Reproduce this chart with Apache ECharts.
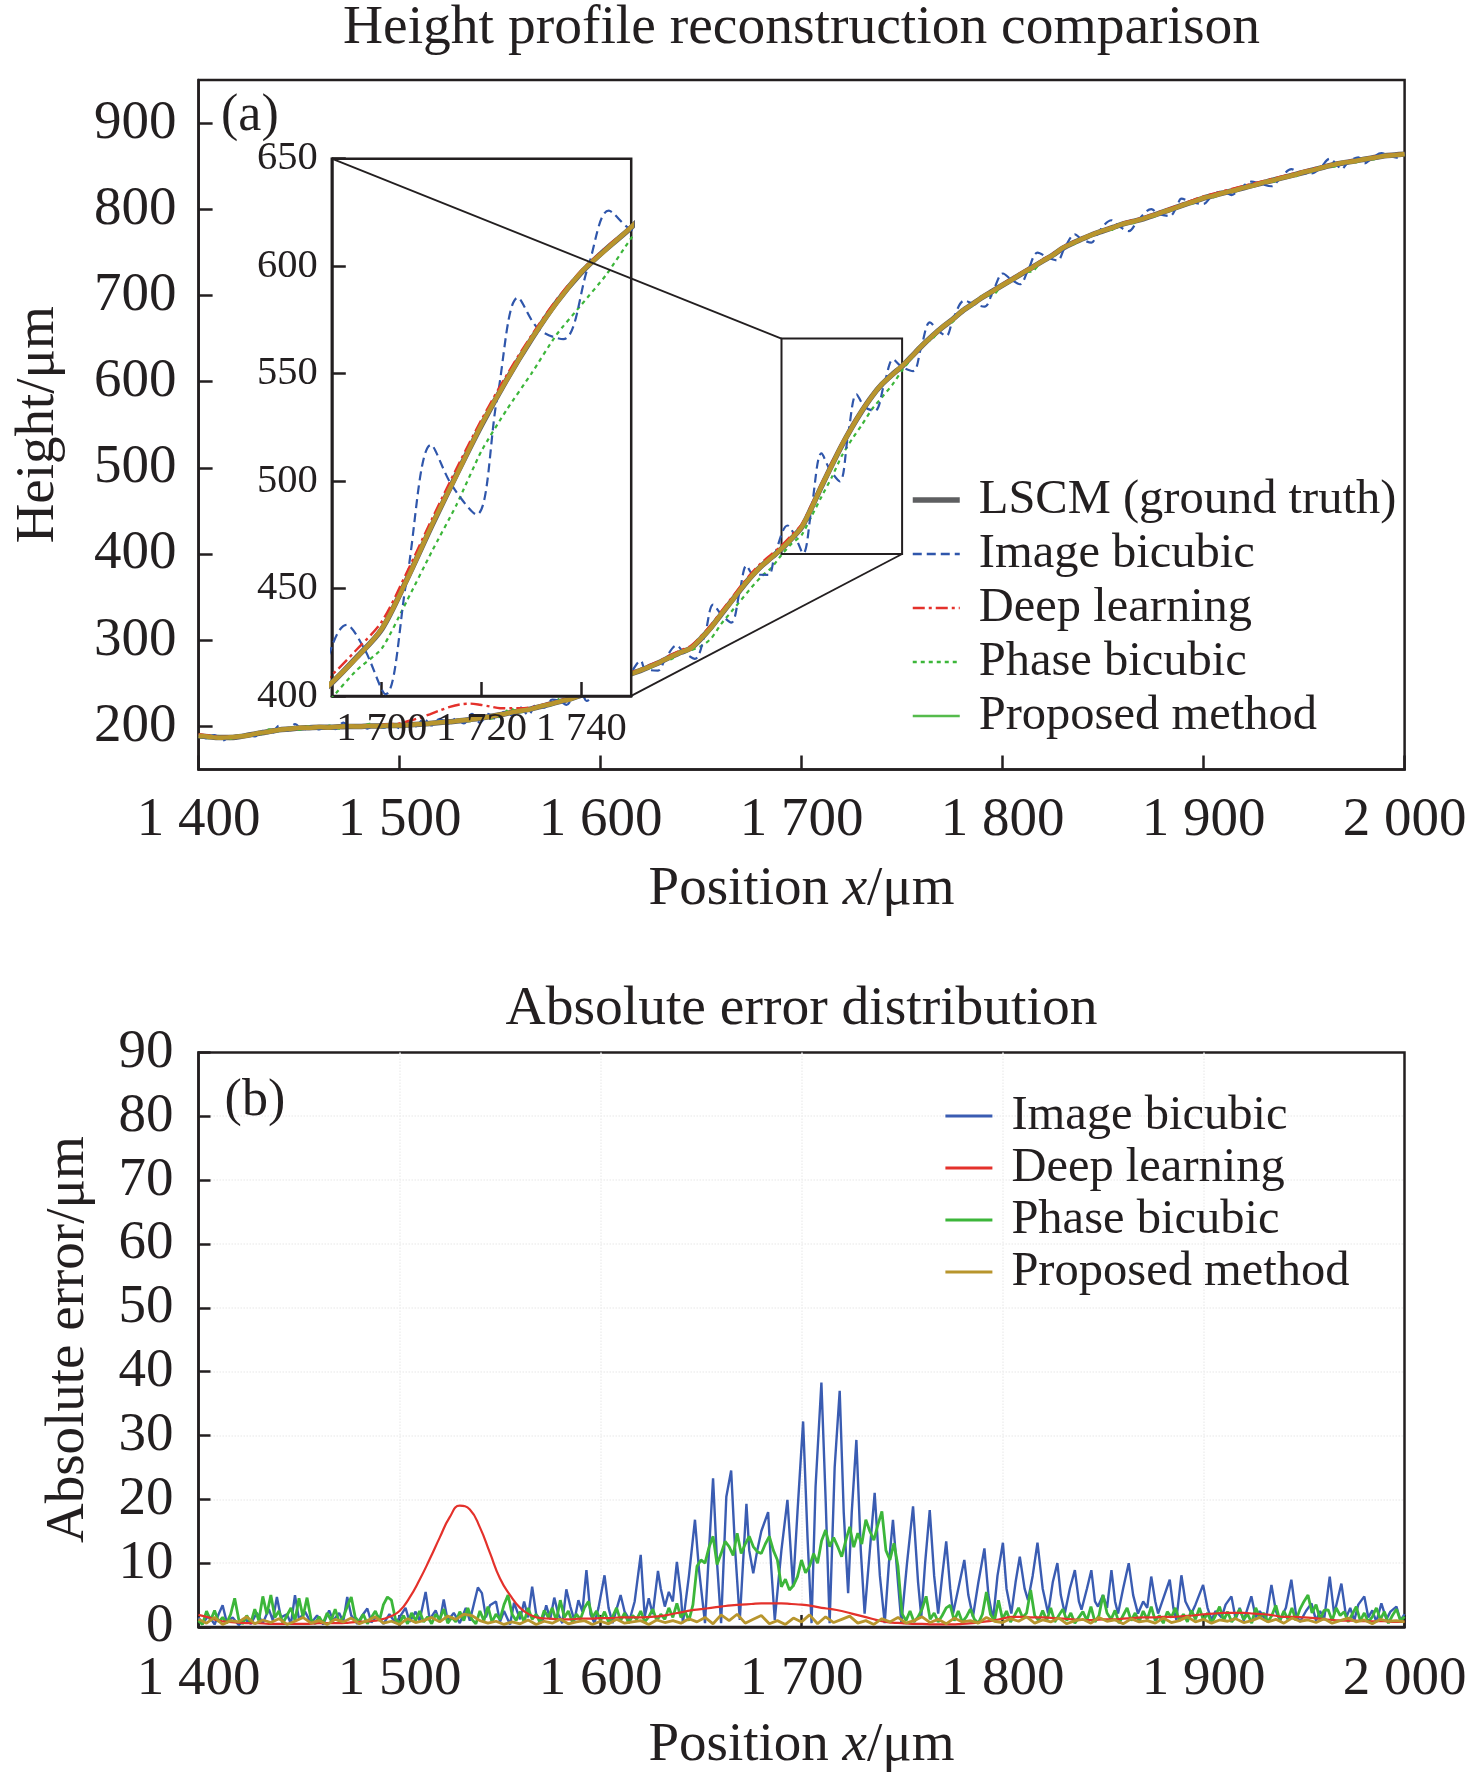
<!DOCTYPE html>
<html>
<head>
<meta charset="utf-8">
<title>Height profile reconstruction comparison</title>
<script src="https://cdn.jsdelivr.net/npm/echarts@6/dist/echarts.min.js"></script>
<style>
  html, body { margin: 0; padding: 0; background: #fff; }
  #chartA { position: absolute; left: 0; top: 0; width: 1476px; height: 960px; }
  #chartB { position: absolute; left: 0; top: 960px; width: 1476px; height: 819px; }
</style>
</head>
<body>
<div id="chartA"></div>
<div id="chartB"></div>
<script>
/* ===== data ===== */

// (a) heights, sampled every 5 um from 1400 to 2000
var heightStart = 1400, heightStep = 5;
var lscmH = [
  189, 188, 187, 187, 188, 190, 192, 194, 196, 197,
  198, 198.5, 199, 199, 199.5, 200, 200, 200.5, 200.5, 201,
  201, 202, 202.5, 203.5, 204.5, 205.5, 206.5, 208, 209.5, 211.5,
  213.5, 216, 218, 220, 223, 226, 229, 232, 236, 240,
  245, 250, 256, 261, 265, 270, 275, 281, 286, 291,
  302, 315, 330, 345, 360, 374, 386, 396, 406, 418,
  431, 454, 479, 503, 526, 547, 566, 583, 597, 608,
  618, 630, 642, 653, 663, 672, 682, 690, 698, 705,
  712, 719, 726, 733, 740, 747, 755, 761, 766, 771,
  775, 779, 783, 786, 789, 793, 797, 801, 805, 809,
  813, 816, 819, 822, 825, 828, 831, 834, 837, 840,
  843, 846, 849, 852, 854, 856, 858, 860, 862, 863,
  864
];
var proposedH = [
  189.2, 188.1, 186.8, 187.3, 188.2, 189.8, 192.3, 193.8, 196.2, 197.1,
  198.3, 198.4, 199.2, 198.8, 199.6, 200.2, 199.8, 200.6, 200.4, 201.2,
  201.1, 201.8, 202.7, 203.4, 204.8, 205.3, 206.8, 207.8, 209.7, 211.3,
  213.7, 215.8, 218.2, 219.8, 223.2, 225.8, 229.1, 231.8, 236.2, 239.8,
  245.1, 249.8, 256.2, 260.8, 265.2, 269.8, 275.1, 280.8, 286.2, 290.8,
  302.2, 314.8, 330.3, 344.7, 360.2, 373.8, 386.1, 395.8, 406.2, 417.8,
  431.2, 453.8, 479.2, 502.7, 526.2, 546.8, 566.1, 582.8, 597.2, 607.8,
  618.2, 629.8, 642.1, 652.8, 663.2, 671.8, 682.1, 689.8, 698.2, 704.8,
  712.1, 718.8, 726.2, 732.8, 740.1, 746.8, 755.2, 760.8, 766.1, 770.8,
  775.2, 778.8, 783.1, 785.8, 789.2, 792.8, 797.1, 800.8, 805.2, 808.8,
  813.1, 815.8, 819.2, 821.8, 825.1, 827.8, 831.2, 833.8, 837.1, 839.8,
  843.2, 845.8, 849.1, 851.8, 854.2, 855.8, 858.1, 859.8, 862.1, 862.8,
  864.1
];
var deepH = [
  190.9, 189.5, 188.0, 187.8, 188.7, 190.6, 192.6, 194.5, 196.5, 197.5,
  198.5, 199.0, 199.6, 199.6, 200.1, 200.7, 200.8, 201.4, 201.6, 202.6,
  203.5, 206.6, 209.9, 214.1, 218.5, 222.7, 225.5, 226.4, 225.1, 223.1,
  221.1, 221.0, 221.0, 221.9, 224.4, 227.3, 230.2, 233.2, 237.3, 241.3,
  246.4, 251.4, 257.5, 262.5, 266.5, 271.6, 276.7, 283.0, 288.3, 293.6,
  304.8, 318.0, 333.2, 348.4, 363.5, 377.6, 389.7, 399.7, 409.7, 421.6,
  434.5, 457.3, 482.0, 505.8, 528.5, 549.1, 567.7, 584.3, 597.9, 608.7,
  618.6, 630.5, 642.5, 653.4, 663.4, 672.4, 682.5, 690.6, 698.8, 706.0,
  713.3, 720.6, 727.6, 734.5, 741.5, 748.4, 756.3, 762.2, 767.1, 772.1,
  776.2, 780.2, 784.3, 787.4, 790.5, 794.5, 798.6, 802.6, 806.7, 810.8,
  815.0, 818.1, 821.2, 824.2, 827.2, 830.1, 833.0, 835.8, 838.6, 841.6,
  844.5, 847.4, 850.2, 853.1, 855.0, 857.0, 858.9, 860.9, 862.9, 863.8,
  864.8
];
var phaseH = [
  188.0, 186.5, 189.0, 185.0, 189.5, 191.0, 190.0, 196.5, 194.5, 199.0,
  196.0, 200.5, 197.5, 201.0, 197.5, 202.0, 199.0, 203.0, 199.5, 199.0,
  202.5, 200.5, 204.0, 202.0, 206.0, 204.0, 208.0, 206.0, 210.5, 209.0,
  211.5, 220.5, 216.5, 219.0, 224.5, 224.5, 232.5, 230.5, 239.5, 237.5,
  246.0, 248.0, 257.5, 259.0, 266.5, 268.0, 276.0, 278.0, 285.0, 288.5,
  293.0, 302.0, 319.0, 333.0, 347.0, 361.0, 374.0, 384.0, 399.0, 412.0,
  422.0, 444.0, 467.0, 489.0, 514.0, 533.0, 550.0, 568.0, 582.0, 596.0,
  613.0, 628.0, 643.5, 649.5, 664.0, 669.0, 683.0, 688.0, 699.5, 700.0,
  713.0, 717.0, 727.0, 728.0, 741.0, 745.0, 756.0, 759.0, 767.0, 769.0,
  776.5, 776.0, 784.0, 784.0, 790.0, 791.0, 798.0, 799.0, 806.0, 807.0,
  813.5, 814.0, 820.0, 820.0, 826.0, 826.0, 831.5, 832.0, 838.0, 837.5,
  843.5, 843.0, 850.0, 849.5, 855.0, 854.0, 858.5, 858.0, 862.5, 861.5,
  864.0
];
// image bicubic height: uneven sampling (peaks and crossings)
var bicubicHx = [
  1400, 1404, 1408, 1412, 1416, 1420, 1424, 1428, 1432, 1436,
  1440, 1444, 1448, 1452, 1456, 1460, 1464, 1468, 1472, 1476,
  1480, 1484, 1488, 1492, 1496, 1500, 1504, 1508, 1512, 1516,
  1520, 1524, 1528, 1532, 1536, 1540, 1544, 1548, 1552, 1556,
  1560, 1564, 1568, 1572, 1576,
  1580, 1583, 1586, 1589, 1591, 1593, 1597.5, 1602, 1606, 1610.4,
  1614.5, 1620, 1622, 1628.6, 1632, 1637.8, 1641, 1646.9, 1651.9, 1656,
  1660, 1665, 1669.3, 1672.6, 1676, 1683.4, 1686.7, 1693, 1696.5, 1700.8,
  1705, 1709.9, 1714, 1719, 1723.2, 1727.3, 1731.4, 1736.4, 1741.4, 1745.5,
  1749.7, 1755.5, 1759.6, 1763.8, 1768, 1772, 1775.4, 1781, 1785.3, 1791,
  1795.3, 1800.2, 1804.4, 1808.6, 1812.7, 1817.4, 1822.7, 1827.3, 1831, 1836,
  1839.3, 1844.2, 1847.5, 1854.2, 1857.5, 1862.8, 1867.4, 1874, 1877.4, 1883.2,
  1886.5, 1889, 1894, 1899.8, 1904, 1908, 1911, 1913.9, 1918, 1923.8,
  1928, 1933.8, 1938, 1943.7, 1948, 1953.7, 1958, 1962.8, 1966, 1968.6,
  1972, 1977, 1980, 1984, 1988.5, 1992, 1996, 2000
];
var bicubicH = [
  190.5, 186.2, 189.9, 183.6, 188.7, 186.8, 191.8, 188.4, 194.8, 190.9,
  200.7, 194.8, 202.6, 195.8, 200.4, 196.4, 201.2, 196.8, 204.4, 198.2,
  201.6, 197.5, 202.3, 198.7, 202.5, 198.0, 204.2, 199.9, 208.6, 201.1,
  208.8, 203.1, 209.1, 203.5, 214.5, 204.2, 214.5, 208.7, 217.0, 212.6,
  222.0, 213.3, 225.2, 221.7, 231.2,
  229.0, 224.9, 232.8, 239.4, 236.8, 229.5, 242.5, 255.1, 251.2, 251.4,
  260.5, 276.3, 267.0, 264.8, 277.4, 294.0, 287.0, 278.4, 307.0, 341.3,
  330.0, 320.5, 358.0, 386.6, 376.4, 375.8, 399.4, 433.1, 422.0, 400.8,
  454.0, 516.8, 498.2, 484.4, 539.5, 585.3, 570.8, 566.0, 600.0, 625.8,
  617.4, 612.3, 641.0, 668.7, 659.0, 653.2, 672.8, 694.1, 690.5, 687.1,
  705.4, 725.5, 718.2, 713.0, 729.8, 749.6, 743.8, 740.7, 756.0, 770.9,
  765.3, 761.3, 773.0, 787.3, 781.0, 774.7, 787.4, 800.1, 794.9, 792.2,
  802.2, 812.3, 808.2, 806.2, 815.4, 820.3, 819.6, 816.5, 823.8, 832.1,
  829.8, 826.7, 835.8, 846.6, 841.8, 841.5, 847.8, 858.6, 852.4, 846.6,
  854.8, 860.3, 853.2, 859.6, 865.1, 862.4, 860.0, 866.0
];
var zoomBox = [1690, 1750, 400, 650];       // x0, x1, y0, y1 of the magnified region
var yTicksA = [200, 300, 400, 500, 600, 700, 800, 900];
var insetXTicks = [1700, 1720, 1740];

// (b) absolute errors
var bicubicErrX = [
  1400, 1402, 1405, 1408, 1410, 1412, 1414, 1417, 1420, 1423,
  1426, 1429, 1432, 1435, 1437, 1439, 1441, 1444, 1446, 1448,
  1450, 1453, 1456, 1459, 1462, 1465, 1467, 1470, 1472, 1474,
  1476, 1479, 1481, 1484, 1486, 1489, 1492, 1495, 1498, 1500,
  1503, 1505, 1508, 1510, 1513, 1515, 1518, 1520, 1522, 1524,
  1527, 1530, 1533, 1535, 1537, 1539, 1541, 1543, 1545, 1548,
  1550, 1552, 1555, 1557, 1560, 1562, 1564, 1566, 1568, 1571,
  1573, 1575, 1577, 1579, 1581, 1583, 1585, 1587, 1589, 1591,
  1593, 1595, 1597, 1599, 1602, 1604, 1606, 1608, 1610, 1612,
  1614.5, 1617, 1620, 1622, 1624, 1626, 1628.6, 1630, 1632, 1634,
  1636, 1638, 1640, 1641, 1644, 1647, 1649, 1652, 1654, 1656,
  1658, 1660, 1662.6, 1665, 1667, 1669.3, 1672.6, 1674, 1676, 1678,
  1680, 1683.4, 1685, 1686.7, 1690, 1693, 1695.8, 1698, 1700.8, 1703,
  1705, 1707, 1709.9, 1712, 1714, 1716.5, 1719, 1721, 1723.2, 1725,
  1727.3, 1729.5, 1731.4, 1734, 1736.4, 1739, 1741.4, 1743.5, 1745.5, 1748,
  1749.7, 1752.5, 1755.5, 1758, 1759.6, 1761.5, 1763.8, 1766, 1768, 1770,
  1772, 1774, 1775.4, 1778, 1781, 1783, 1785.3, 1788, 1791, 1793,
  1795.3, 1797.5, 1800.2, 1802, 1804.4, 1806.5, 1808.6, 1811, 1812.7, 1815,
  1817.4, 1820, 1822.7, 1825, 1827.3, 1829, 1831, 1833.5, 1836, 1838,
  1839.3, 1842, 1844.2, 1846, 1847.5, 1850, 1852, 1854.2, 1856, 1857.5,
  1860, 1862.8, 1865, 1867.4, 1870, 1872, 1874, 1876, 1877.4, 1880,
  1883.2, 1885, 1886.5, 1889, 1891, 1894, 1896, 1899.8, 1902, 1904,
  1906, 1909, 1911, 1913.9, 1916, 1918, 1920, 1923.8, 1926, 1928,
  1931, 1933.8, 1936, 1938, 1941, 1943.7, 1946, 1948, 1951, 1953.7,
  1956, 1958, 1960, 1962.8, 1965, 1966.5, 1968.6, 1971, 1973, 1975,
  1977, 1980, 1982, 1984, 1986, 1988.5, 1991, 1993, 1996, 1998,
  2000
];
var bicubicErr = [
  1.5, 0.5, 1.8, 0.4, 2.0, 3.4, 0.8, 1.5, 0.3, 1.2,
  0.5, 2.2, 0.6, 2.8, 1.0, 4.7, 1.5, 2.0, 0.5, 5.0,
  1.2, 2.4, 0.6, 1.8, 0.4, 2.6, 1.0, 2.2, 0.8, 4.7,
  1.8, 0.5, 1.6, 2.9, 0.7, 1.8, 0.5, 2.0, 0.6, 1.5,
  3.0, 0.8, 2.4, 1.0, 5.5, 1.2, 2.6, 0.8, 4.3, 1.0,
  2.2, 0.6, 3.0, 1.0, 3.6, 6.2, 5.3, 1.5, 3.4, 4.0,
  0.8, 2.5, 0.4, 3.8, 1.2, 4.0, 1.5, 6.3, 2.0, 0.8,
  3.4, 1.2, 4.6, 2.0, 0.6, 5.9, 3.2, 1.0, 4.2, 2.4,
  8.9, 2.0, 0.6, 3.0, 8.1, 3.0, 0.6, 2.8, 5.0, 2.4,
  1.1, 4.0, 11.3, 1.6, 4.5, 2.0, 8.8, 6.0, 3.2, 5.5,
  4.0, 10.2, 5.0, 0.6, 8.0, 16.8, 9.0, 0.6, 12.0, 23.3,
  10.0, 0.6, 20.4, 24.5, 12.0, 1.1, 19.3, 12.0, 8.4, 12.0,
  15.0, 18.0, 9.0, 1.1, 12.0, 19.9, 6.3, 18.0, 32.2, 14.0,
  0.6, 22.0, 38.3, 20.0, 0.6, 25.0, 37.0, 18.0, 5.3, 18.0,
  29.3, 12.0, 2.1, 12.0, 21.0, 8.0, 0.6, 10.0, 16.8, 7.0,
  0.6, 10.0, 18.9, 7.0, 1.6, 10.0, 18.3, 8.0, 2.1, 8.0,
  13.4, 6.0, 2.1, 6.0, 10.5, 5.0, 1.6, 7.0, 12.3, 5.0,
  1.1, 8.0, 13.2, 6.0, 2.1, 7.0, 11.0, 6.0, 4.2, 8.0,
  13.2, 6.0, 2.1, 7.0, 10.0, 5.0, 2.1, 6.0, 8.9, 4.0,
  2.7, 6.0, 8.9, 4.0, 3.2, 5.0, 3.0, 8.9, 4.0, 2.1,
  6.0, 10.0, 5.0, 2.1, 4.0, 3.0, 7.9, 4.0, 2.1, 4.5,
  7.4, 3.0, 1.1, 8.1, 4.0, 2.1, 3.5, 6.6, 3.0, 1.1,
  2.5, 1.5, 3.5, 4.8, 1.2, 3.0, 1.0, 4.8, 1.5, 2.5,
  1.0, 6.6, 2.5, 1.0, 3.0, 7.4, 2.0, 0.8, 2.5, 3.7,
  1.0, 2.5, 1.2, 7.9, 2.0, 4.0, 6.8, 1.5, 3.0, 1.0,
  3.5, 4.8, 1.5, 2.6, 0.8, 3.7, 1.2, 2.4, 3.2, 1.0,
  2.0
];
// deep learning error, every 5 um
var deepErr = [
  1.9, 1.5, 1.0, 0.8, 0.7, 0.6, 0.6, 0.5, 0.5, 0.5,
  0.5, 0.5, 0.6, 0.6, 0.6, 0.7, 0.8, 0.9, 1.1, 1.6,
  2.5, 4.6, 7.4, 10.6, 14.0, 17.2, 19.0, 18.4, 15.6, 11.6,
  7.6, 5.0, 3.0, 1.9, 1.4, 1.3, 1.2, 1.2, 1.3, 1.3,
  1.4, 1.4, 1.5, 1.5, 1.5, 1.6, 1.7, 2.0, 2.3, 2.6,
  2.8, 3.0, 3.2, 3.4, 3.5, 3.6, 3.7, 3.7, 3.7, 3.6,
  3.5, 3.3, 3.0, 2.8, 2.5, 2.1, 1.7, 1.3, 0.9, 0.7,
  0.6, 0.5, 0.5, 0.4, 0.4, 0.4, 0.5, 0.6, 0.8, 1.0,
  1.3, 1.6, 1.6, 1.5, 1.5, 1.4, 1.3, 1.2, 1.1, 1.1,
  1.2, 1.2, 1.3, 1.4, 1.5, 1.5, 1.6, 1.6, 1.7, 1.8,
  2.0, 2.1, 2.2, 2.2, 2.2, 2.1, 2.0, 1.8, 1.6, 1.6,
  1.5, 1.4, 1.2, 1.1, 1.0, 1.0, 0.9, 0.9, 0.9, 0.8,
  0.8
];
// phase bicubic error, every 2 um
var phaseErrStep = 2;
var phaseErr = [
  1.0, 0.4, 2.5, 1.0, 2.6, 0.8, 1.5, 0.6, 2.0, 4.5,
  1.2, 0.5, 1.8, 0.6, 2.8, 1.0, 4.8, 2.0, 5.0, 1.5,
  2.5, 0.6, 1.8, 3.0, 1.0, 4.5, 1.6, 4.6, 1.2, 0.5,
  1.6, 0.6, 2.2, 1.0, 2.8, 0.8, 1.5, 3.2, 4.7, 1.5,
  0.8, 2.0, 0.5, 1.5, 2.5, 1.0, 3.5, 4.7, 4.2, 1.2,
  0.6, 1.8, 0.5, 2.2, 1.0, 2.5, 0.8, 1.6, 0.5, 2.0,
  1.2, 2.8, 0.6, 1.5, 0.8, 2.4, 1.0, 3.0, 1.2, 0.5,
  2.5, 1.0, 3.2, 0.8, 2.0, 1.2, 3.5, 5.0, 2.0, 1.0,
  2.4, 0.8, 3.0, 1.2, 2.0, 0.6, 2.6, 1.5, 3.0, 1.0,
  4.2, 1.5, 2.5, 0.8, 2.0, 1.2, 3.0, 4.0, 1.5, 2.5,
  1.0, 2.4, 0.8, 1.6, 3.0, 1.0, 2.2, 0.6, 1.8, 1.2,
  2.5, 0.8, 1.6, 2.8, 1.0, 2.0, 1.2, 3.0, 1.5, 3.7,
  1.5, 2.5, 1.0, 3.5, 9.5, 10.5, 10.0, 12.5, 14.2, 9.8,
  11.5, 13.4, 12.6, 11.2, 14.7, 11.5, 13.0, 14.2, 12.6, 11.8,
  11.5, 13.0, 14.2, 12.0, 10.5, 6.3, 7.5, 5.8, 6.5, 7.9,
  10.5, 8.5, 9.5, 11.5, 10.0, 13.5, 15.2, 12.6, 14.0, 12.6,
  11.0, 13.5, 15.7, 12.5, 14.7, 13.0, 16.8, 15.0, 13.6, 16.0,
  18.1, 12.0, 10.5, 13.1, 9.5, 2.1, 1.0, 2.5, 0.8, 1.6,
  2.8, 4.8, 1.2, 2.2, 0.8, 1.8, 3.0, 3.4, 1.0, 2.5,
  0.8, 1.6, 2.8, 1.2, 0.6, 2.0, 5.5, 2.0, 1.0, 4.2,
  1.2, 2.5, 0.8, 1.8, 3.0, 1.5, 2.2, 5.8, 1.8, 1.0,
  2.6, 1.0, 3.0, 0.8, 1.8, 2.8, 1.0, 2.2, 0.6, 1.5,
  2.4, 1.0, 3.2, 0.8, 1.8, 5.0, 2.2, 1.2, 2.6, 0.6,
  1.8, 3.0, 1.0, 2.2, 0.8, 2.5, 1.2, 3.2, 1.0, 1.8,
  0.6, 2.4, 1.5, 3.0, 1.0, 2.0, 0.8, 2.6, 1.2, 3.0,
  1.0, 2.2, 0.6, 1.8, 3.2, 1.0, 2.4, 0.8, 1.6, 2.8,
  1.2, 2.0, 0.6, 3.0, 1.5, 2.2, 0.8, 1.8, 3.4, 1.0,
  2.5, 1.2, 3.0, 1.0, 2.8, 4.0, 5.0, 2.2, 3.5, 1.2,
  2.6, 2.7, 1.0, 3.0, 1.8, 2.4, 0.8, 2.0, 3.2, 1.0,
  2.2, 0.8, 1.6, 3.0, 1.2, 2.4, 0.6, 1.8, 2.8, 1.0,
  1.6
];
// proposed method error, every 4 um
var proposedErrStep = 4;
var proposedErr = [
  1.2, 0.6, 1.5, 0.4, 1.0, 0.8, 1.6, 0.5, 1.1, 0.7,
  1.3, 0.4, 0.9, 1.5, 0.6, 1.0, 0.4, 1.2, 0.8, 1.4,
  0.5, 1.0, 1.6, 0.6, 0.9, 0.4, 1.3, 0.7, 1.0, 1.5,
  0.8, 1.7, 1.2, 2.0, 1.8, 1.0, 0.6, 0.9, 0.4, 0.8,
  0.5, 1.1, 0.4, 0.9, 0.6, 1.2, 0.5, 0.8, 1.0, 0.4,
  0.9, 0.5, 1.2, 0.6, 0.8, 1.0, 0.4, 1.1, 0.7, 1.0,
  0.6, 1.3, 0.8, 1.5, 0.5, 1.9, 1.0, 2.0, 0.6, 1.2,
  1.8, 0.5, 1.0, 0.4, 1.4, 0.8, 1.9, 0.5, 1.6, 0.7,
  1.2, 1.7, 0.6, 1.0, 0.4, 1.3, 0.8, 1.5, 0.6, 1.0,
  1.6, 0.7, 1.2, 0.5, 1.4, 0.8, 1.0, 0.6, 1.5, 0.9,
  0.7, 1.3, 0.9, 1.6, 0.6, 1.1, 0.8, 1.4, 0.5, 1.0,
  1.2, 0.6, 1.5, 0.9, 1.1, 0.5, 1.3, 0.8, 1.0, 0.6,
  1.4, 0.7, 1.0, 1.6, 0.8, 1.2, 0.6, 1.1, 0.9, 1.3,
  0.7, 1.0, 1.5, 0.8, 1.2, 0.6, 1.4, 0.9, 1.1, 0.7,
  1.3, 0.6, 1.0, 1.4, 0.8, 1.1, 0.5, 1.2, 0.9, 1.0,
  0.8
];

/* ===== helpers ===== */
var FONT = '"Liberation Serif", "Times New Roman", serif';
var INK = '#231f20';
var C_GRAY = '#5e5f61', C_BLUE = '#2f56ab', C_RED = '#e4312b',
    C_GREEN = '#3cb63a', C_OLIVE = '#b8952d', C_LGREEN = '#55bb4c';

function stepped(start, step, ys) {
  return ys.map(function (y, i) { return [start + i * step, y]; });
}
function paired(xs, ys) {
  return ys.map(function (y, i) { return [xs[i], y]; });
}
function spaced(v) {
  return String(v).replace(/\B(?=(\d{3})+(?!\d))/g, ' ');
}

var lscmData = stepped(heightStart, heightStep, lscmH);
var proposedData = stepped(heightStart, heightStep, proposedH);
var deepData = stepped(heightStart, heightStep, deepH);
var phaseData = stepped(heightStart, heightStep, phaseH);
var bicubicData = paired(bicubicHx, bicubicH);

var axisName = {
  fontFamily: FONT, fontSize: 55, color: INK,
  rich: {
    n: { fontFamily: FONT, fontSize: 55, color: INK },
    i: { fontFamily: FONT, fontSize: 55, color: INK, fontStyle: 'italic' }
  }
};
// legend: line only, no symbol in the middle
var legendBase = {
  orient: 'vertical', itemWidth: 47, itemHeight: 14, selectedMode: false,
  itemStyle: { opacity: 0 },
  lineStyle: { width: 2.4 },
  textStyle: { fontFamily: FONT, fontSize: 48.5, color: INK, lineHeight: 50, padding: [0, 0, 0, 14] }
};

/* ===== (a) height profile ===== */
var chartA = echarts.init(document.getElementById('chartA'), null, { renderer: 'canvas' });

function heightSeries(gi, z) {
  var common = { type: 'line', xAxisIndex: gi, yAxisIndex: gi, symbol: 'none', z: z, animation: false };
  return [
    Object.assign({ name: 'LSCM (ground truth)', data: lscmData, smooth: 0.3,
      lineStyle: { color: C_GRAY, width: 5.5 }, itemStyle: { color: C_GRAY } }, common),
    Object.assign({ name: 'Phase bicubic', data: phaseData, smooth: 0.2,
      lineStyle: { color: C_GREEN, width: 2.2, type: [4, 4] }, itemStyle: { color: C_GREEN } }, common),
    Object.assign({ name: 'Image bicubic', data: bicubicData, smooth: 0.35,
      lineStyle: { color: C_BLUE, width: 2.2, type: [9, 5] }, itemStyle: { color: C_BLUE } }, common),
    Object.assign({ name: 'Deep learning', data: deepData, smooth: 0.3,
      lineStyle: { color: C_RED, width: 2.4, type: [12, 4, 3, 4] }, itemStyle: { color: C_RED } }, common),
    Object.assign({ name: 'Proposed method', data: proposedData, smooth: 0.3,
      lineStyle: { color: C_OLIVE, width: 4.5 }, itemStyle: { color: C_OLIVE } }, common)
  ];
}

var seriesA = heightSeries(0, 2).concat(heightSeries(1, 12));
seriesA[0].markArea = {
  silent: true,
  itemStyle: { color: 'rgba(0,0,0,0)', borderColor: INK, borderWidth: 2 },
  data: [[{ coord: [zoomBox[0], zoomBox[3]] }, { coord: [zoomBox[1], zoomBox[2]] }]]
};

var optionA = {
  animation: false,
  backgroundColor: '#fff',
  grid: [
    { left: 198.6, top: 80, width: 1206, height: 689.5, show: true,
      borderColor: INK, borderWidth: 2.5, backgroundColor: 'rgba(0,0,0,0)' },
    { left: 331.8, top: 158.7, width: 299.4, height: 537.2, show: true, z: 10,
      borderColor: INK, borderWidth: 2.5, backgroundColor: '#fff' }
  ],
  xAxis: [{
    type: 'value', gridIndex: 0, min: 1400, max: 2000, interval: 100,
    name: '{n|Position }{i|x}{n|/μm}', nameLocation: 'middle', nameGap: 93,
    nameTextStyle: axisName,
    axisLine: { show: true, lineStyle: { color: INK, width: 2.5 } },
    axisTick: { inside: true, length: 14, lineStyle: { color: INK, width: 2.5 } },
    axisLabel: { fontFamily: FONT, fontSize: 55, color: INK, margin: 24, formatter: spaced },
    splitLine: { show: false }
  }, {
    type: 'value', gridIndex: 1, min: zoomBox[0], max: zoomBox[1], z: 11,
    axisLine: { show: true, lineStyle: { color: INK, width: 2.5 } },
    axisTick: { inside: true, length: 14, customValues: insetXTicks, lineStyle: { color: INK, width: 2.5 } },
    axisLabel: { fontFamily: FONT, fontSize: 40.5, color: INK, margin: 13, customValues: insetXTicks, formatter: spaced },
    splitLine: { show: false }
  }],
  yAxis: [{
    type: 'value', gridIndex: 0, min: 150, max: 950,
    name: 'Height/μm', nameLocation: 'middle', nameGap: 133,
    nameTextStyle: { fontFamily: FONT, fontSize: 55, color: INK },
    axisLine: { show: true, lineStyle: { color: INK, width: 2.5 } },
    axisTick: { inside: true, length: 14, customValues: yTicksA, lineStyle: { color: INK, width: 2.5 } },
    axisLabel: { fontFamily: FONT, fontSize: 55, color: INK, margin: 22, customValues: yTicksA },
    splitLine: { show: false }
  }, {
    type: 'value', gridIndex: 1, min: zoomBox[2], max: zoomBox[3], interval: 50, z: 11,
    axisLine: { show: true, lineStyle: { color: INK, width: 2.5 } },
    axisTick: { inside: true, length: 14, lineStyle: { color: INK, width: 2.5 } },
    axisLabel: { fontFamily: FONT, fontSize: 40.5, color: INK, margin: 14 },
    splitLine: { show: false }
  }],
  legend: Object.assign({}, legendBase, {
    left: 905, top: 470, itemGap: 4,
    data: [
      { name: 'LSCM (ground truth)', lineStyle: { color: C_GRAY, width: 5.5 } },
      { name: 'Image bicubic' },
      { name: 'Deep learning' },
      { name: 'Phase bicubic' },
      { name: 'Proposed method', lineStyle: { color: C_LGREEN, width: 2.4 } }
    ]
  }),
  graphic: [
    { type: 'text', x: 801.5, y: 28, style: { text: 'Height profile reconstruction comparison',
      font: '55.5px ' + FONT, fill: INK, align: 'center', verticalAlign: 'middle' } },
    { type: 'text', x: 221, y: 116, z: 20, style: { text: '(a)',
      font: '52px ' + FONT, fill: INK, align: 'left', verticalAlign: 'middle' } }
  ],
  series: seriesA
};
chartA.setOption(optionA);

// lines joining the inset corners to the magnified box
var insetTL = chartA.convertToPixel({ xAxisIndex: 1, yAxisIndex: 1 }, [zoomBox[0], zoomBox[3]]);
var boxTL = chartA.convertToPixel({ xAxisIndex: 0, yAxisIndex: 0 }, [zoomBox[0], zoomBox[3]]);
var insetBR = chartA.convertToPixel({ xAxisIndex: 1, yAxisIndex: 1 }, [zoomBox[1], zoomBox[2]]);
var boxBR = chartA.convertToPixel({ xAxisIndex: 0, yAxisIndex: 0 }, [zoomBox[1], zoomBox[2]]);
chartA.setOption({
  graphic: optionA.graphic.concat([
    { type: 'line', z: 15, shape: { x1: insetTL[0], y1: insetTL[1], x2: boxTL[0], y2: boxTL[1] },
      style: { stroke: INK, lineWidth: 1.8 } },
    { type: 'line', z: 15, shape: { x1: insetBR[0], y1: insetBR[1], x2: boxBR[0], y2: boxBR[1] },
      style: { stroke: INK, lineWidth: 1.8 } }
  ])
});

/* ===== (b) absolute error ===== */
var chartB = echarts.init(document.getElementById('chartB'), null, { renderer: 'canvas' });

var gridLine = { show: true, showMinLine: false, showMaxLine: false,
  lineStyle: { color: '#f0f0f0', width: 1.5, type: 'dotted' } };

chartB.setOption({
  animation: false,
  backgroundColor: '#fff',
  grid: { left: 198.5, top: 92.4, width: 1206, height: 574.6, show: true,
    borderColor: INK, borderWidth: 2.5, backgroundColor: 'rgba(0,0,0,0)' },
  xAxis: {
    type: 'value', min: 1400, max: 2000, interval: 100,
    name: '{n|Position }{i|x}{n|/μm}', nameLocation: 'middle', nameGap: 91,
    nameTextStyle: axisName,
    axisLine: { show: true, lineStyle: { color: INK, width: 2.5 } },
    axisTick: { inside: true, length: 12, lineStyle: { color: INK, width: 2.5 } },
    axisLabel: { fontFamily: FONT, fontSize: 55, color: INK, margin: 25, formatter: spaced },
    splitLine: gridLine
  },
  yAxis: {
    type: 'value', min: 0, max: 90, interval: 10,
    name: 'Absolute error/μm', nameLocation: 'middle', nameGap: 102,
    nameTextStyle: { fontFamily: FONT, fontSize: 55, color: INK },
    axisLine: { show: true, lineStyle: { color: INK, width: 2.5 } },
    axisTick: { inside: true, length: 12, lineStyle: { color: INK, width: 2.5 } },
    axisLabel: { fontFamily: FONT, fontSize: 55, color: INK, margin: 25 },
    splitLine: gridLine
  },
  legend: Object.assign({}, legendBase, {
    left: 939, top: 126, itemGap: 2,
    lineStyle: { width: 2.8 },
    data: ['Image bicubic', 'Deep learning', 'Phase bicubic', 'Proposed method']
  }),
  graphic: [
    { type: 'text', x: 801.5, y: 49, style: { text: 'Absolute error distribution',
      font: '55.5px ' + FONT, fill: INK, align: 'center', verticalAlign: 'middle' } },
    { type: 'text', x: 224.6, y: 141, z: 20, style: { text: '(b)',
      font: '52px ' + FONT, fill: INK, align: 'left', verticalAlign: 'middle' } }
  ],
  series: [
    { name: 'Image bicubic', type: 'line', symbol: 'none', data: paired(bicubicErrX, bicubicErr),
      lineStyle: { color: '#3a5cb2', width: 2.4 }, itemStyle: { color: '#3a5cb2' } },
    { name: 'Phase bicubic', type: 'line', symbol: 'none', data: stepped(1400, phaseErrStep, phaseErr),
      lineStyle: { color: C_GREEN, width: 2.8 }, itemStyle: { color: C_GREEN } },
    { name: 'Deep learning', type: 'line', symbol: 'none', smooth: true, data: stepped(1400, heightStep, deepErr),
      lineStyle: { color: C_RED, width: 2.2 }, itemStyle: { color: C_RED } },
    { name: 'Proposed method', type: 'line', symbol: 'none', data: stepped(1400, proposedErrStep, proposedErr),
      lineStyle: { color: C_OLIVE, width: 2.8 }, itemStyle: { color: C_OLIVE } }
  ]
});
</script>
</body>
</html>
